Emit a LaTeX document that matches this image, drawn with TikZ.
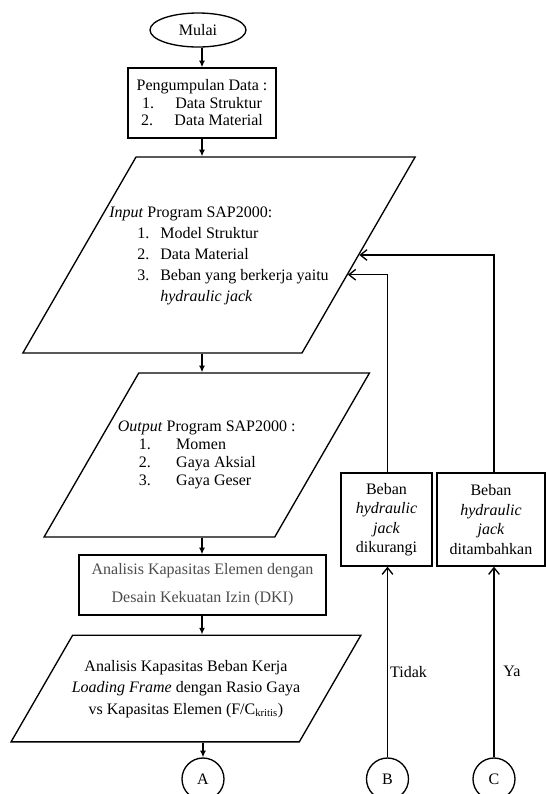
\documentclass[tikz,border=0pt]{standalone}
\usepackage{fontspec}
\setmainfont{Liberation Serif}[ItalicFont={Liberation Serif Italic}]
\usetikzlibrary{shapes.geometric,arrows.meta,calc,positioning}

\begin{document}
\begin{tikzpicture}[x=0.75pt,y=-0.75pt,
    every node/.style={font=\fontsize{12}{14}\selectfont, align=center},
    term/.style={draw, ellipse, line width=1pt, minimum width=72pt, minimum height=25.5pt, inner sep=0pt},
    proc/.style={draw, rectangle, line width=1pt, inner sep=2pt},
    io/.style={draw, trapezium, trapezium left angle=60, trapezium right angle=120,
      trapezium stretches body, line width=1pt, inner xsep=2pt},
    conn/.style={draw, circle, line width=1pt, minimum size=31.5pt, inner sep=0pt},
    arr/.style={line width=1pt, -{Latex[length=5pt,width=4.5pt]}},
    back/.style={line width=1pt, -{Straight Barb[length=5pt,width=8pt]}},
    lbl/.style={right, inner sep=1.5pt}
  ]
  \useasboundingbox (0,0) rectangle (546,794);

  % alur utama
  \node[term] (mulai) at (198,30) {Mulai};
  \node[proc, minimum width=111pt, minimum height=52.5pt, font=\fontsize{12}{13.1}\selectfont] (data) at (202,103)
    {Pengumpulan Data :\\ 1.\hspace{16pt}Data Struktur\\ 2.\hspace{16pt}Data Material};
  \node[io, inner ysep=34.1pt, font=\fontsize{12}{15.75}\selectfont] (input) at (219,255)
    {\makebox[120.5pt]{\begin{tabular}{@{\hspace{21pt}}p{17.25pt}@{}l@{}}
      \multicolumn{2}{@{}l@{}}{\textit{Input} Program SAP2000:}\\
      1. & Model Struktur\\
      2. & Data Material\\
      3. & Beban yang berkerja yaitu\\
         & \textit{hydraulic jack}
     \end{tabular}}};
  \node[io, inner ysep=34.3pt, font=\fontsize{12}{13.6}\selectfont] (output) at (206.75,455)
    {\makebox[98pt]{\begin{tabular}{@{\hspace{15.75pt}}p{28pt}@{}l@{}}
      \multicolumn{2}{@{}l@{}}{\textit{Output} Program SAP2000 :}\\
      1. & Momen\\
      2. & Gaya Aksial\\
      3. & Gaya Geser
     \end{tabular}}};
  \node[proc, minimum width=185.25pt, minimum height=45pt, text=black!70, font=\fontsize{12}{21}\selectfont] (dki) at (202.5,585)
    {Analisis Kapasitas Elemen dengan\\ Desain Kekuatan Izin (DKI)};
  \node[io, inner ysep=16pt, font=\fontsize{12}{16}\selectfont] (kerja) at (186,688.5)
    {\makebox[166pt]{\begin{tabular}{@{}c@{}}
      Analisis Kapasitas Beban Kerja\\
      \textit{Loading Frame} dengan Rasio Gaya\\
      vs Kapasitas Elemen (F/C\textsubscript{kritis})
     \end{tabular}}};

  % konektor
  \node[conn] (cA) at (203,779) {A};
  \node[conn] (cB) at (387.5,779) {B};
  \node[conn] (cC) at (494,779) {C};

  % beban jack
  \node[proc, minimum width=68.25pt, minimum height=69.75pt, font=\fontsize{12}{14.6}\selectfont] (kurang) at (386.5,519.5)
    {Beban\\ \textit{hydraulic}\\ \textit{jack}\\ dikurangi};
  \node[proc, minimum width=81pt, minimum height=69.75pt, font=\fontsize{12}{14.6}\selectfont] (tambah) at (491,519.5)
    {Beban\\ \textit{hydraulic}\\ \textit{jack}\\ ditambahkan};

  \draw[arr] (mulai.south -| data.north) -- (data.north);
  \draw[arr] (data.south) -- (data.south |- input.top side);
  \draw[arr] (input.bottom side -| data.south) -- (output.top side -| data.south);
  \draw[arr] (output.bottom side -| data.south) -- (dki.north -| data.south);
  \draw[arr] (dki.south -| data.south) -- (kerja.top side -| data.south);
  \draw[arr] (kerja.bottom side -| cA.north) -- (cA.north);

  \draw[back] (cB.north) -- node[lbl, pos=0.45] {Tidak} (cB.north |- kurang.south);
  \draw[back] (cC.north) -- node[lbl, pos=0.45, xshift=5pt] {Ya} (cC.north |- tambah.south);
  \draw[back] (cB.north |- kurang.north) |- ($(input.top right corner)!0.6!(input.bottom right corner)$);
  \draw[back] (cC.north |- tambah.north) |- (input.right side);
\end{tikzpicture}
\end{document}
